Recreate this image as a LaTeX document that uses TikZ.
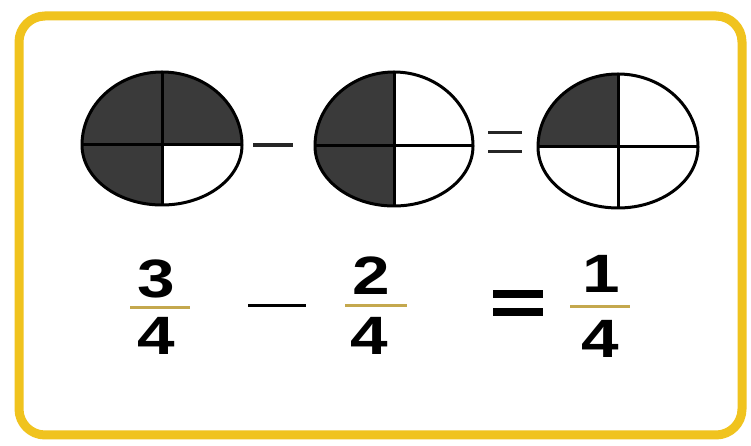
\documentclass[tikz,border=0pt]{standalone}
\usepackage{fontspec}
\setmainfont{Liberation Sans}
\definecolor{frameyellow}{HTML}{F0C31E}
\definecolor{quarterfill}{HTML}{3A3A3A}
\definecolor{barcol}{HTML}{C4A84E}
\newcommand{\eggdraw}[9]{%
  \fill[#6] (#1,#2) -- (#1,#2+#4) arc[start angle=90,end angle=180,x radius=#3pt,y radius=#4pt] -- cycle;
  \fill[#7] (#1,#2) -- (#1+#3,#2) arc[start angle=0,end angle=90,x radius=#3pt,y radius=#4pt] -- cycle;
  \fill[#8] (#1,#2) -- (#1-#3,#2) arc[start angle=180,end angle=270,x radius=#3pt,y radius=#5pt] -- cycle;
  \fill[#9] (#1,#2) -- (#1,#2-#5) arc[start angle=270,end angle=360,x radius=#3pt,y radius=#5pt] -- cycle;
  \draw[eggline] (#1+#3,#2) arc[start angle=0,end angle=180,x radius=#3pt,y radius=#4pt]
     arc[start angle=180,end angle=360,x radius=#3pt,y radius=#5pt] -- cycle;
  \draw[eggline] (#1,#2+#4) -- (#1,#2-#5);
  \draw[eggline] (#1-#3,#2) -- (#1+#3,#2);
}
\begin{document}
\begin{tikzpicture}[x=1pt,y=1pt,
  eggline/.style={line width=3pt,black},
  signline/.style={line width=3.5pt,black!85},
  fracbar/.style={line width=3pt,barcol},
  digit/.style={font=\fontsize{54}{54}\selectfont\bfseries,inner sep=0pt,anchor=base,xscale=1.25},
  bigeq/.style={line width=8pt,black}]
\useasboundingbox (0,0) rectangle (751,446);
\fill[white] (0,0) rectangle (751,446);
\draw[line width=9pt,frameyellow,rounded corners=26pt] (19,11) rectangle (742,430);
% pies
\eggdraw{162}{301}{80}{73}{60}{quarterfill}{quarterfill}{quarterfill}{white}
\eggdraw{394}{300}{79}{74}{60}{quarterfill}{white}{quarterfill}{white}
\eggdraw{618}{299}{80}{73}{61}{quarterfill}{white}{white}{white}
% signs between pies
\coordinate (m1a) at (253,301); \coordinate (m1b) at (293,301);
\draw[signline] (m1a) -- (m1b);
\coordinate (e1a) at (488,313.5); \coordinate (e1b) at (522,313.5);
\coordinate (e2a) at (488,294.5); \coordinate (e2b) at (522,294.5);
\draw[signline] (e1a) -- (e1b);
\draw[signline] (e2a) -- (e2b);
% fractions
\node[digit] (n1) at (156,148) {3};
\node[digit] (d1) at (156,91) {4};
\coordinate (b1a) at (130,138); \coordinate (b1b) at (190,138);
\draw[fracbar] (b1a) -- (b1b);
\coordinate (m2a) at (248,140); \coordinate (m2b) at (306,140);
\draw[line width=3pt,black] (m2a) -- (m2b);
\node[digit] (n2) at (371,151) {2};
\node[digit] (d2) at (369,91) {4};
\coordinate (b2a) at (345,140); \coordinate (b2b) at (407,140);
\draw[fracbar] (b2a) -- (b2b);
\coordinate (q1a) at (493,152); \coordinate (q1b) at (543,152);
\coordinate (q2a) at (493,133.5); \coordinate (q2b) at (543,133.5);
\draw[bigeq] (q1a) -- (q1b);
\draw[bigeq] (q2a) -- (q2b);
\node[digit] (n3) at (601,153) {1};
\node[digit] (d3) at (600,88) {4};
\coordinate (b3a) at (570,139); \coordinate (b3b) at (630,139);
\draw[fracbar] (b3a) -- (b3b);
\end{tikzpicture}
\end{document}
